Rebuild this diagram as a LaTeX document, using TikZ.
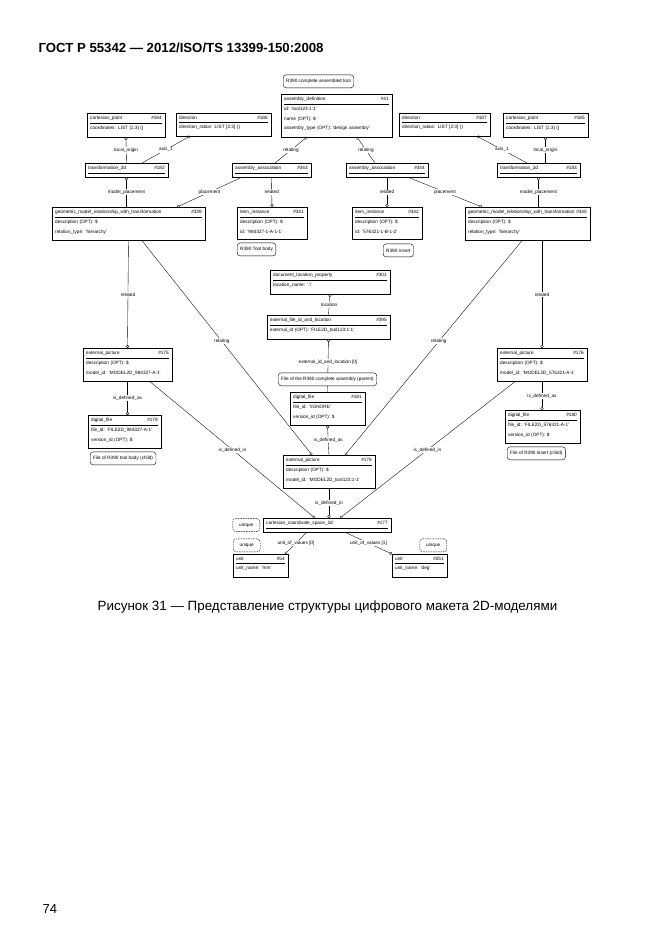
\documentclass[tikz,border=0pt]{standalone}
\usepackage{fontspec}
\setmainfont{Liberation Sans}
\usetikzlibrary{positioning, arrows.meta}

\newcommand{\boxfont}{\fontsize{4.7}{9.5}\selectfont}
\newcommand{\q}[1]{\textquotesingle#1\textquotesingle}
% entity box: name, instance number, attribute lines
\newcommand{\ent}[3]{\hbox to\hsize{#1\hfill\##2}\par\kern2pt\hrule\kern3.5pt #3\par\kern3pt}
\newcommand{\enttop}[2]{\hbox to\hsize{#1\hfill\##2}\par\kern2pt\hrule\kern1pt}

\begin{document}
\begin{tikzpicture}[x=1pt, y=-1pt,
  ent/.style={draw, fill=white, line width=0.45pt, anchor=north west, inner sep=3pt,
    text width=#1, align=left, font=\boxfont,
    path picture={\fill (path picture bounding box.south east) -- ++(-4pt,0) -- ++(4pt,4pt) -- cycle;}},
  note/.style={draw, rounded corners=3pt, fill=white, inner xsep=3pt, inner ysep=1.5pt, minimum height=13pt, font=\boxfont},
  uniq/.style={note, dash pattern=on 1.5pt off 1pt, minimum width=27pt},
  rel/.style={line width=0.35pt, -{Circle[open, length=3pt]}},
  lab/.style={font=\boxfont, fill=white, inner sep=0.8pt}]
\useasboundingbox[fill=white] (0,0) rectangle (662,935);

% page header, caption, page number
\node[anchor=base west, font=\fontsize{13.2}{15}\selectfont\bfseries] (head) at (35,52) {ГОСТ Р 55342 — 2012/ISO/TS 13399-150:2008};
\node[anchor=base, font=\fontsize{13.4}{15}\selectfont] (cap) at (327.5,610) {Рисунок 31 — Представление структуры цифрового макета 2D-моделями};
\node[anchor=base west, font=\fontsize{13}{15}\selectfont] (page) at (39,913) {74};

% top row
\node[ent=71.5pt] (n184) at (87,113) {\ent{cartesian\_point}{184}{coordinates: LIST [1:3] ()}};
\node[ent=88.5pt] (n186) at (176,113) {\ent{direction}{186}{direction\_ratios: LIST [2:3] ()}};
\node[ent=104.5pt] (n41) at (281,94) {\ent{assembly\_definition}{41}{id: \q{tool123:1:1}\\name (OPT): \$\\assembly\_type (OPT): \q{design assembly}}};
\node[ent=84.5pt] (n187) at (399,113) {\ent{direction}{187}{direction\_ratios: LIST [2:3] ()}};
\node[ent=78.5pt] (n185) at (503,113) {\ent{cartesian\_point}{185}{coordinates: LIST [1:3] ()}};
\node[note, above right=6pt and 2pt of n41.north west] (ttool) {R390 complete assembled tool};

\node[ent=76.5pt] (n182) at (85,163) {\enttop{transformation\_2d}{182}};
\node[ent=72.5pt] (n343) at (232,163) {\enttop{assembly\_association}{343}};
\node[ent=75.5pt] (n344) at (346,163) {\enttop{assembly\_association}{344}};
\node[ent=76.5pt] (n183) at (497,163) {\enttop{transformation\_2d}{183}};

\node[ent=146.5pt] (n339) at (52,207) {\ent{geometric\_model\_relationship\_with\_transformation}{339}{description (OPT): \$\\relation\_type: \q{hierarchy}}};
\node[ent=63.5pt] (n341) at (237,207) {\ent{item\_instance}{341}{description (OPT): \$\\id: \q{984327-1-A-1-1}}};
\node[ent=63.5pt] (n342) at (352,207) {\ent{item\_instance}{342}{description (OPT): \$\\id: \q{576321-1-B-1-2}}};
\node[ent=118.5pt] (n340) at (465,207) {\ent{geometric\_model\_relationship\_with\_transformation}{340}{description (OPT): \$\\relation\_type: \q{hierarchy}}};
\node[note, below right=3pt and 0pt of n341.south west] (tbody) {R390 Tool body};
\node[note, below right=4pt and 31pt of n342.south west] (tinsert) {R390 Insert};

% file of the assembly
\node[ent=113.5pt] (n301) at (270,270) {\ent{document\_location\_property}{301}{location\_name: \q{.\textbackslash}}};
\node[ent=116.5pt] (n395) at (267,315) {\ent{external\_file\_id\_and\_location}{395}{external\_id (OPT): \q{FILE2D\_tool123:1:1}}};
\node[ent=68.5pt] (n181) at (290,392) {\ent{digital\_file}{181}{file\_id: \q{\textbackslash IGNORE}\\version\_id (OPT): \$}};
\node[ent=85.5pt] (n178) at (283,455) {\ent{external\_picture}{178}{description (OPT): \$\\model\_id: \q{MODEL2D\_tool123:1-1}}};

% tool body and insert
\node[ent=82.5pt] (n175) at (83,348) {\ent{external\_picture}{175}{description (OPT): \$\\model\_id: \q{MODEL2D\_984327-A-1}}};
\node[ent=66.5pt] (n179) at (88,415) {\ent{digital\_file}{179}{file\_id: \q{FILE2D\_984327-A-1}\\version\_id (OPT): \$}};
\node[note, below right=3pt and 2pt of n179.south west] (fbody) {File of R390 tool body (child)};
\node[ent=83.5pt] (n176) at (497,348) {\ent{external\_picture}{176}{description (OPT): \$\\model\_id: \q{MODEL2D\_576321-A-1}}};
\node[ent=68.5pt] (n180) at (505,410) {\ent{digital\_file}{180}{file\_id: \q{FILE2D\_576321-A-1}\\version\_id (OPT): \$}};
\node[note, below right=3pt and 2pt of n180.south west] (finsert) {File of R390 insert (child)};

% coordinate space and units
\node[ent=121.5pt] (n177) at (263,518) {\enttop{cartesian\_coordinate\_space\_2d}{177}};
\node[ent=48.5pt] (n54) at (233,554) {\ent{unit}{54}{unit\_name: \q{mm}}};
\node[ent=48.5pt] (n251) at (392,554) {\ent{unit}{251}{unit\_name: \q{deg}}};
\node[uniq, left=3pt of n177] (u177) {unique};
\node[uniq, above right=2pt and 0pt of n54.north west] (u54) {unique};
\node[uniq, above left=2pt and 0pt of n251.north east] (u251) {unique};

% relations
\draw[rel] (n182.north) -- node[lab]{local\_origin} (n184.south);
\draw[rel] ([xshift=57pt]n182.north west) -- node[lab]{axis\_1} ([xshift=14pt]n186.south west);
\draw[rel] ([xshift=43pt]n343.north west) -- node[lab]{relating} ([xshift=26pt]n41.south west);
\draw[rel] ([xshift=29pt]n344.north west) -- node[lab]{relating} ([xshift=76pt]n41.south west);
\draw[rel] ([xshift=30pt]n183.north west) -- node[lab]{axis\_1} ([xshift=-13pt]n187.south east);
\draw[rel] (n185.south |- n183.north) -- node[lab]{local\_origin} (n185.south);

\draw[rel] (n343.south) -- node[lab]{related} (n341.north);
\draw[rel] (n344.south) -- node[lab]{related} (n342.north);
\draw[rel] ([xshift=10pt]n343.south west) -- node[lab]{placement} ([xshift=-28pt]n339.north east);
\draw[rel] ([xshift=-20pt]n344.south east) -- node[lab]{placement} ([xshift=17pt]n340.north west);
\draw[rel] (n182.south |- n339.north) -- node[lab]{model\_placement} (n182.south);
\draw[rel] (n183.south |- n340.north) -- node[lab]{model\_placement} (n183.south);

\draw[rel] (n339.south) -- node[lab]{related} (n175.north);
\draw[rel] (n176.north |- n340.south) -- node[lab]{related} (n176.north);
\draw[rel] ([xshift=90pt]n339.south west) -- node[lab, pos=.47]{relating} ([xshift=29pt]n178.north west);
\draw[rel] ([xshift=57pt]n340.south west) -- node[lab, pos=.47]{relating} ([xshift=62pt]n178.north west);

\draw[rel] (n395.north) -- node[lab]{location} (n301.south);
\draw[rel] (n181.north) -- node[lab, pos=.56]{external\_id\_and\_location [0]} (n395.south);
\node[note, above=6pt of n181] (fparent) {File of the R390 complete assembly (parent)};
\draw[rel] (n178.north) -- node[lab]{is\_defined\_as} (n181.south);
\draw[rel] (n175.south) -- node[lab]{is\_defined\_as} (n175.south |- n179.north);
\draw[rel] (n176.south) -- node[lab]{is\_defined\_as} (n176.south |- n180.north);

\draw[rel] ([xshift=-22pt]n175.south east) -- node[lab]{is\_defined\_in} ([xshift=52pt]n177.north west);
\draw[rel] ([xshift=18pt]n176.south west) -- node[lab]{is\_defined\_in} ([xshift=77pt]n177.north west);
\draw[rel] (n178.south) -- node[lab]{is\_defined\_in} (n178.south |- n177.north);
\draw[rel] ([xshift=44pt]n177.south west) -- node[lab]{unit\_of\_values [0]} ([xshift=-3pt]n54.north east);
\draw[rel] ([xshift=82pt]n177.south west) -- node[lab]{unit\_of\_values [1]} (n251.north west);
\end{tikzpicture}
\end{document}
